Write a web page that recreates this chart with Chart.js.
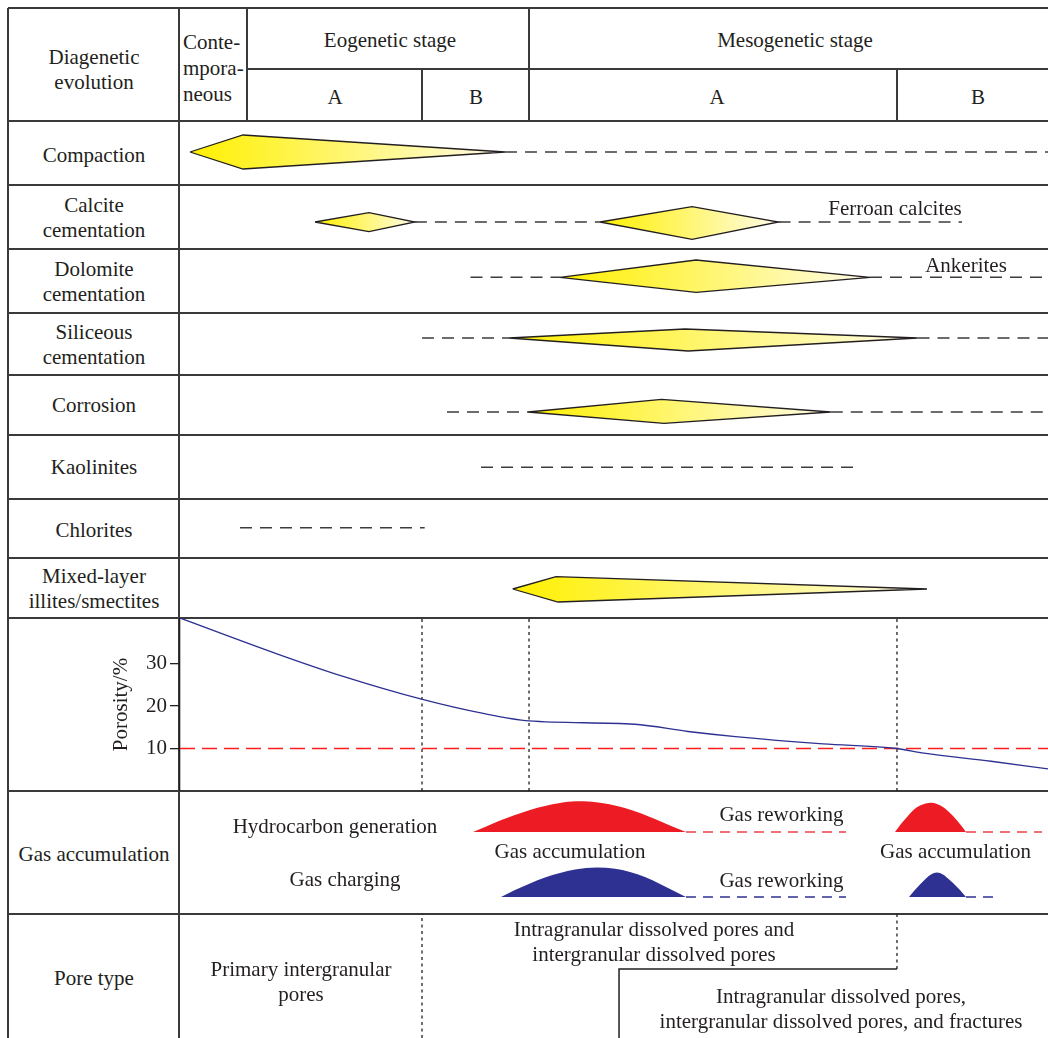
<!DOCTYPE html>
<html>
<head>
<meta charset="utf-8">
<script src="https://cdn.jsdelivr.net/npm/chart.js@4.4.1/dist/chart.umd.min.js"></script>
<style>
  html, body { margin: 0; padding: 0; background: #fff; }
  #fig { position: relative; width: 1048px; height: 1038px; overflow: hidden;
         font-family: "Liberation Serif", "Times New Roman", serif; font-size: 21px; color: #231f20; }
  .ln { position: absolute; background: #3a3a3a; }
  .tx { position: absolute; white-space: nowrap; line-height: 25px; text-align: center;
        transform: translate(-50%, -50%); z-index: 5; }
  .tl { position: absolute; white-space: nowrap; line-height: 26px; text-align: left; z-index: 5; }
  canvas { position: absolute; z-index: 2; }
</style>
</head>
<body>
<div id="fig"></div>
<script>
// ---------------- data (time axis: relative diagenetic time, 0–100) ----------------
const stageEdges = [0, 7.72, 27.88, 40.21, 82.6, 100];   // Contemp. | Eo A | Eo B | Meso A | Meso B

// Process envelopes: [time, level] vertices (level in row units, 0 = row bottom)
const compactionBody   = [[1.15, 3.3], [7.26, 5.0], [37.44, 3.3], [7.26, 1.6]];
const compactionTail   = [[37.44, 3.3], [100, 3.3]];

const calciteEarlyBody   = [[15.55, 2.7], [21.77, 3.63], [27.06, 2.7], [21.77, 1.73]];
const calciteFerroanBody = [[48.39, 2.7], [58.99, 4.23], [68.96, 2.7], [58.99, 0.97]];
const calciteTraces      = [[[27.06, 2.7], [48.39, 2.7]], [[68.96, 2.7], [90.1, 2.7]]];

const dolomiteBody   = [[43.78, 3.57], [59.45, 5.3], [79.49, 3.57], [59.45, 2.07]];
const dolomiteTraces = [[[33.47, 3.57], [43.78, 3.57]], [[79.49, 3.57], [100, 3.57]]];

const siliceousBody   = [[37.9, 3.7], [58.18, 4.6], [84.97, 3.7], [58.53, 2.4]];
const siliceousTraces = [[[27.88, 3.7], [37.9, 3.7]], [[84.97, 3.7], [100, 3.7]]];

const corrosionBody   = [[40.09, 2.3], [55.48, 3.57], [74.97, 2.3], [55.76, 1.17]];
const corrosionTraces = [[[30.76, 2.3], [40.09, 2.3]], [[74.97, 2.3], [100, 2.3]]];

const kaoliniteTrace = [[34.68, 3.17], [78.0, 3.17]];
const chloriteTrace  = [[6.91, 3.03], [28.19, 3.03]];

const mixedLayerBody = [[38.33, 2.9], [43.32, 4.13], [86.06, 2.9], [43.55, 1.6]];

// Porosity evolution (%)
const porosityTime  = [0, 11.0, 18.89, 27.82, 34.79, 40.21, 52.36, 58.53, 64.0, 74.08, 82.6, 85.71, 93.43, 100];
const porosityValue = [40.7, 32.4, 26.9, 21.6, 18.3, 16.5, 15.7, 14.0, 12.8, 11.1, 10.0, 8.9, 7.0, 5.2];
const porosityCutoff = 10;
const porosityTicks  = [10, 20, 30];

// Hydrocarbon generation (red) and gas charging (blue): pulse height above baseline
const generationBase = 8.2;
const generation1Time   = [33.76, 35.14, 36.87, 38.59, 40.32, 42.05, 43.78, 45.62, 47.47, 49.31, 51.15, 53.0, 54.72, 56.45, 58.29];
const generation1Height = [0, 0.5, 1.15, 1.7, 2.2, 2.6, 2.9, 3.07, 3.02, 2.8, 2.42, 1.9, 1.3, 0.65, 0];
const generation2Time   = [82.37, 83.06, 83.76, 84.56, 85.25, 86.52, 87.9, 88.71, 89.52, 90.09, 90.55];
const generation2Height = [0, 0.8, 1.5, 2.25, 2.65, 2.93, 2.5, 1.9, 1.15, 0.55, 0];
const generationRework  = [[58.29, 76.73], [90.55, 99.31]];

const chargingBase = 1.7;
const charging1Time   = [36.98, 38.59, 40.32, 42.05, 43.78, 45.51, 48.04, 50.12, 51.84, 53.57, 55.3, 56.8, 58.29];
const charging1Height = [0, 0.7, 1.35, 1.95, 2.4, 2.75, 2.95, 2.82, 2.5, 2.0, 1.3, 0.65, 0];
const charging2Time   = [83.99, 84.56, 85.25, 85.94, 86.52, 87.21, 87.9, 88.48, 89.06, 89.86, 90.55];
const charging2Height = [0, 0.6, 1.25, 1.85, 2.25, 2.45, 2.25, 1.85, 1.4, 0.7, 0];
const chargingRework  = [[58.29, 76.73], [90.55, 94.47]];

// Pore-type succession: onset time of fracture-bearing assemblage and its boundary level
const fracturePoreOnset = 50.58;
const poreBoundaryLevel = 6.9;

// ---------------- layout ----------------
const FONT = '"Liberation Serif", "Times New Roman", serif';
const INK = '#231f20';
const PLOT_LEFT = 180, PLOT_W = 868, FIG_W = 1048;
const rowTop = { header: 8, headerMid: 69, compaction: 121, calcite: 185, dolomite: 249, siliceous: 313,
                 corrosion: 375, kaolinite: 435, chlorite: 499, mixed: 558, porosity: 618, gas: 791, pore: 914, end: 1038 };
const timeToPx = v => PLOT_LEFT + v * PLOT_W / 100;

const fig = document.getElementById('fig');

function hLine(y, x1, x2) {
  const d = document.createElement('div'); d.className = 'ln';
  Object.assign(d.style, { left: x1 + 'px', top: (y - 1) + 'px', width: (x2 - x1) + 'px', height: '2px' });
  fig.appendChild(d);
}
function vLine(x, y1, y2) {
  const d = document.createElement('div'); d.className = 'ln';
  Object.assign(d.style, { left: (x - 1) + 'px', top: y1 + 'px', width: '2px', height: (y2 - y1) + 'px' });
  fig.appendChild(d);
}
function text(html, cx, cy) {
  const d = document.createElement('div'); d.className = 'tx';
  d.innerHTML = html; d.style.left = cx + 'px'; d.style.top = cy + 'px';
  fig.appendChild(d);
}

// table frame
hLine(rowTop.header, 8, FIG_W);
hLine(rowTop.headerMid, Math.round(timeToPx(stageEdges[1])), FIG_W);
['compaction', 'calcite', 'dolomite', 'siliceous', 'corrosion', 'kaolinite', 'chlorite', 'mixed', 'porosity', 'gas', 'pore']
  .forEach(k => hLine(rowTop[k], 8, FIG_W));
vLine(8, rowTop.header, rowTop.end);
vLine(179, rowTop.header, rowTop.end);
vLine(Math.round(timeToPx(stageEdges[1])), rowTop.header, rowTop.compaction);
vLine(Math.round(timeToPx(stageEdges[2])), rowTop.headerMid, rowTop.compaction);
vLine(Math.round(timeToPx(stageEdges[3])), rowTop.header, rowTop.compaction);
vLine(Math.round(timeToPx(stageEdges[4])), rowTop.headerMid, rowTop.compaction);

// header text
text('Diagenetic<br>evolution', 94, 70);
const contemp = document.createElement('div'); contemp.className = 'tl';
contemp.innerHTML = 'Conte-<br>mpora-<br>neous';
Object.assign(contemp.style, { left: '183px', top: '29px' });
fig.appendChild(contemp);
text('Eogenetic stage', 390, 40);
text('Mesogenetic stage', 795, 40);
text('A', 335, 97); text('B', 476, 97); text('A', 717, 97); text('B', 978, 97);

// row labels
text('Compaction', 94, 155);
text('Calcite<br>cementation', 94, 217.5);
text('Dolomite<br>cementation', 94, 282);
text('Siliceous<br>cementation', 94, 345);
text('Corrosion', 94, 405);
text('Kaolinites', 94, 467);
text('Chlorites', 94, 530);
text('Mixed-layer<br>illites/smectites', 94, 589);
text('Gas accumulation', 94, 854);
text('Pore type', 94, 978);

// annotations
text('Ferroan calcites', 895, 208);
text('Ankerites', 966, 265);
text('Hydrocarbon generation', 335, 826);
text('Gas charging', 345, 879);
text('Gas accumulation', 570, 851);
text('Gas accumulation', 955.5, 851);
text('Gas reworking', 781.5, 814);
text('Gas reworking', 781.5, 880);
text('Primary intergranular<br>pores', 301, 982);
text('Intragranular dissolved pores and<br>intergranular dissolved pores', 654, 941.5);
text('Intragranular dissolved pores,<br>intergranular dissolved pores, and fractures', 841, 1009);

// ---------------- charts ----------------
const pts = arr => arr.map(([x, y]) => ({ x, y }));

function makeChart(box, yMax, datasets, yOverride) {
  const cv = document.createElement('canvas');
  cv.width = box.w; cv.height = box.h;
  Object.assign(cv.style, { left: box.x + 'px', top: box.y + 'px', width: box.w + 'px', height: box.h + 'px' });
  fig.appendChild(cv);
  const y = Object.assign({ type: 'linear', min: 0, max: yMax, display: false }, yOverride || {});
  return new Chart(cv, {
    type: 'line',
    data: { datasets },
    options: {
      responsive: false, animation: false, devicePixelRatio: 1, events: [],
      layout: { padding: 0 },
      plugins: { legend: { display: false }, tooltip: { enabled: false } },
      elements: { point: { radius: 0 }, line: { tension: 0 } },
      scales: { x: { type: 'linear', min: 0, max: 100, display: false }, y }
    }
  });
}

function bodyDataset(vertices) {
  const xs = vertices.map(v => v[0]);
  const x0 = Math.min(...xs), x1 = Math.max(...xs);
  return {
    data: pts([...vertices, vertices[0]]),
    borderColor: INK, borderWidth: 1.3, borderJoinStyle: 'miter',
    fill: 'shape',
    backgroundColor: (ctx) => {
      const chart = ctx.chart, sx = chart.scales.x;
      if (!chart.chartArea || !sx) return '#fff47a';
      const g = chart.ctx.createLinearGradient(sx.getPixelForValue(x0), 0, sx.getPixelForValue(x1), 0);
      g.addColorStop(0, '#fff000');
      g.addColorStop(1, '#fffce8');
      return g;
    },
    pointRadius: 0
  };
}
function traceDataset(seg, color, dash, width) {
  return { data: pts(seg), borderColor: color || '#3c3c3c', borderWidth: width || 1.6,
           borderDash: dash || [12, 8], fill: false, pointRadius: 0 };
}

const processRows = [
  { top: rowTop.compaction, bottom: rowTop.calcite,   bodies: [compactionBody], traces: [compactionTail] },
  { top: rowTop.calcite,    bottom: rowTop.dolomite,  bodies: [calciteEarlyBody, calciteFerroanBody], traces: calciteTraces },
  { top: rowTop.dolomite,   bottom: rowTop.siliceous, bodies: [dolomiteBody], traces: dolomiteTraces },
  { top: rowTop.siliceous,  bottom: rowTop.corrosion, bodies: [siliceousBody], traces: siliceousTraces },
  { top: rowTop.corrosion,  bottom: rowTop.kaolinite, bodies: [corrosionBody], traces: corrosionTraces },
  { top: rowTop.kaolinite,  bottom: rowTop.chlorite,  bodies: [], traces: [kaoliniteTrace] },
  { top: rowTop.chlorite,   bottom: rowTop.mixed,     bodies: [], traces: [chloriteTrace] },
  { top: rowTop.mixed,      bottom: rowTop.porosity,  bodies: [mixedLayerBody], traces: [] }
];
processRows.forEach(row => {
  const h = row.bottom - row.top;
  const ds = row.traces.map(t => traceDataset(t)).concat(row.bodies.map(bodyDataset));
  makeChart({ x: PLOT_LEFT, y: row.top, w: PLOT_W, h }, h / 10, ds);
});

// porosity panel
const POR_MAX = 40.7;
const stageGuide = (t, y0, y1) => ({ data: [{ x: t, y: y0 }, { x: t, y: y1 }], borderColor: INK,
  borderWidth: 1.3, borderDash: [3, 3.5], fill: false, pointRadius: 0 });
makeChart({ x: 100, y: rowTop.porosity, w: FIG_W - 100, h: rowTop.gas - rowTop.porosity }, POR_MAX, [
  { data: porosityTime.map((t, i) => ({ x: t, y: porosityValue[i] })), borderColor: '#2e3192', borderWidth: 1.3,
    cubicInterpolationMode: 'monotone', fill: false, pointRadius: 0 },
  { data: [{ x: 0, y: porosityCutoff }, { x: 100, y: porosityCutoff }], borderColor: '#ff1d1d', borderWidth: 1.5,
    borderDash: [15, 7], fill: false, pointRadius: 0 },
  stageGuide(stageEdges[2], 0, POR_MAX),
  stageGuide(stageEdges[3], 0, POR_MAX),
  stageGuide(stageEdges[4], 0, POR_MAX)
], {
  display: true, position: 'left',
  afterBuildTicks: s => { s.ticks = porosityTicks.map(v => ({ value: v })); },
  afterFit: s => { s.width = 80; s.paddingTop = 0; s.paddingBottom = 0; },
  grid: { drawOnChartArea: false, drawTicks: true, tickLength: 10, color: INK, lineWidth: 1.3 },
  border: { display: true, color: INK, width: 1.3 },
  ticks: { font: { family: FONT, size: 21 }, color: INK, padding: 3 },
  title: { display: true, text: 'Porosity/%', font: { family: FONT, size: 21 }, color: INK, padding: { top: 9, bottom: 0 } }
});

// gas accumulation panel
const pulse = (times, heights, base, color) => ({
  data: times.map((t, i) => ({ x: t, y: base + heights[i] })),
  borderWidth: 0, borderColor: 'rgba(0,0,0,0)', backgroundColor: color,
  fill: { value: base }, cubicInterpolationMode: 'monotone', pointRadius: 0
});
const RED = '#ed1c24', BLUE = '#2e3192';
const gasSets = [
  pulse(generation1Time, generation1Height, generationBase, RED),
  pulse(generation2Time, generation2Height, generationBase, RED),
  pulse(charging1Time, charging1Height, chargingBase, BLUE),
  pulse(charging2Time, charging2Height, chargingBase, BLUE)
];
generationRework.forEach(([a, b]) => gasSets.push(traceDataset([[a, generationBase], [b, generationBase]], '#ef3f48', [10, 7], 1.5)));
chargingRework.forEach(([a, b]) => gasSets.push(traceDataset([[a, chargingBase], [b, chargingBase]], BLUE, [10, 7], 1.5)));
makeChart({ x: PLOT_LEFT, y: rowTop.gas, w: PLOT_W, h: rowTop.pore - rowTop.gas }, (rowTop.pore - rowTop.gas) / 10, gasSets);

// pore type panel
const poreTop = (rowTop.end - rowTop.pore) / 10;
makeChart({ x: PLOT_LEFT, y: rowTop.pore, w: PLOT_W, h: rowTop.end - rowTop.pore }, poreTop, [
  stageGuide(stageEdges[2], 0, poreTop),
  stageGuide(stageEdges[4], poreBoundaryLevel, poreTop),
  { data: [{ x: fracturePoreOnset, y: 0 }, { x: fracturePoreOnset, y: poreBoundaryLevel }, { x: stageEdges[4], y: poreBoundaryLevel }],
    borderColor: INK, borderWidth: 1.5, fill: false, pointRadius: 0 }
]);
</script>
</body>
</html>
